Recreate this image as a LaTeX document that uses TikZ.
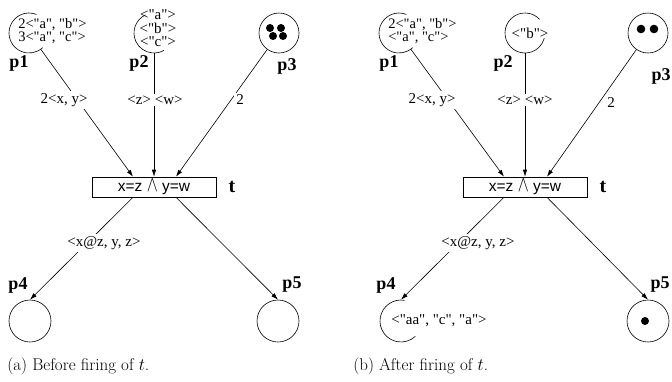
\documentclass[tikz,border=0pt]{standalone}
\usepackage{fontspec}
\newfontfamily\tms{Liberation Serif}
\newfontfamily\hlv{Liberation Sans}
\usetikzlibrary{arrows.meta}
\newcommand{\bigand}{\raisebox{-0.2pt}{\scalebox{1.15}[1.55]{$\wedge$}}}
\begin{document}
\begin{tikzpicture}[x=1pt,y=-1pt,line width=0.6pt,
  place/.style={circle,minimum size=40pt,inner sep=0pt,draw},
  gplace/.style={circle,minimum size=40pt,inner sep=0pt},
  bplace/.style={circle,minimum size=42pt,inner sep=0pt,draw},
  trans/.style={rectangle,draw,minimum width=124pt,minimum height=20pt,inner sep=0pt,font=\hlv\fontsize{15.5}{15.5}\selectfont},
  pname/.style={font=\tms\bfseries\fontsize{18}{18}\selectfont,inner sep=0pt},
  tname/.style={font=\tms\bfseries\fontsize{20}{20}\selectfont,inner sep=0pt},
  alabel/.style={fill=white,inner sep=2pt,font=\tms\fontsize{15}{15}\selectfont},
  tok/.style={inner sep=0pt,font=\tms\fontsize{15}{13.5}\selectfont},
  pnarc/.style={-{Latex[length=7pt,width=4.5pt]}},
  captxt/.style={anchor=west,inner sep=0pt,font=\fontsize{17}{17}\selectfont}]
\useasboundingbox (0,0) rectangle (672,381);

% ---------- left panel ----------
\node[gplace] (ap1) at (29,33) {};
\node[gplace] (ap2) at (154,33) {};
\node[place] (ap3) at (279,33) {};
\node[trans] (at) at (154,187) {x=z \bigand{} y=w};
\node[bplace] (ap4) at (30,321) {};
\node[bplace] (ap5) at (278,321) {};
\draw (ap1.center) ++(68:20pt) arc[start angle=68,end angle=313,radius=20pt];
\draw (ap2.center) ++(115:20pt) arc[start angle=115,end angle=300,radius=20pt];
\node[tok,anchor=west,align=left,font=\tms\fontsize{14.5}{12.5}\selectfont] (ap1m) at (18,31) {2<"a", "b">\\3<"a", "c">};
\node[tok,align=center] (ap2m) at (158,28.5) {<"a">\\<"b">\\<"c">};
\foreach \dx/\dy in {-9/-5,2/-5,-6/3,4/3}
  \fill ([shift={(\dx,\dy)}]ap3.center) circle[radius=4pt];
\node[pname] (ap1n) at (19,63) {p1};
\node[pname] (ap2n) at (139,63) {p2};
\node[pname] (ap3n) at (287,66) {p3};
\node[pname] (ap4n) at (18,285) {p4};
\node[pname] (ap5n) at (292,285) {p5};
\node[tname] (atn) at (232,187) {t};
\draw[pnarc] (ap1) -- ([xshift=-21pt]at.north);
\draw[pnarc] (ap2) -- (at.north);
\draw[pnarc] (ap3) -- ([xshift=22pt]at.north);
\draw[pnarc] ([xshift=-21pt]at.south) -- (ap4.north);
\draw[pnarc] ([xshift=22pt]at.south) -- (ap5.north);
\node[alabel] (al1) at (64,100) {2<x, y>};
\node[alabel] (al2) at (155,100) {<z> <w>};
\node[alabel] (al3) at (240,100) {2};
\node[alabel] (al4) at (104,243) {<x@z, y, z>};
\node[captxt] (acap) at (7,366) {(a) Before firing of $t$.};

% ---------- right panel ----------
\node[gplace] (bp1) at (399,33) {};
\node[gplace] (bp2) at (525,33) {};
\node[place] (bp3) at (648,33) {};
\node[trans] (bt) at (525,187) {x=z \bigand{} y=w};
\node[gplace,minimum size=42pt] (bp4) at (401,321) {};
\node[bplace] (bp5) at (648,321) {};
\draw (bp1.center) ++(68:20pt) arc[start angle=68,end angle=313,radius=20pt];
\draw (bp2.center) ++(43:20pt) arc[start angle=43,end angle=345,radius=20pt];
\draw (bp4.center) ++(80:21pt) arc[start angle=80,end angle=313,radius=21pt];
\node[tok,anchor=west,align=left,font=\tms\fontsize{14.5}{12.5}\selectfont] (bp1m) at (388,31) {2<"a", "b">\\<"a", "c">};
\node[tok] (bp2m) at (530,33) {<"b">};
\node[tok,anchor=west] (bp4m) at (391,321) {<"aa", "c", "a">};
\foreach \dx/\dy in {-7/-4,6/-4}
  \fill ([shift={(\dx,\dy)}]bp3.center) circle[radius=4.3pt];
\fill ([shift={(-3,0)}]bp5.center) circle[radius=4pt];
\node[pname] (bp1n) at (389,63) {p1};
\node[pname] (bp2n) at (503,63) {p2};
\node[pname] (bp3n) at (661,76) {p3};
\node[pname] (bp4n) at (386,285) {p4};
\node[pname] (bp5n) at (660,285) {p5};
\node[tname] (btn) at (603,187) {t};
\draw[pnarc] (bp1) -- ([xshift=-21pt]bt.north);
\draw[pnarc] (bp2) -- (bt.north);
\draw[pnarc] (bp3) -- ([xshift=22pt]bt.north);
\draw[pnarc] ([xshift=-21pt]bt.south) -- (bp4.north);
\draw[pnarc] ([xshift=22pt]bt.south) -- (bp5.north);
\node[alabel] (bl1) at (432,100) {2<x, y>};
\node[alabel] (bl2) at (525,100) {<z> <w>};
\node[alabel] (bl3) at (611,103) {2};
\node[alabel] (bl4) at (478,243) {<x@z, y, z>};
\node[captxt] (bcap) at (353,366) {(b) After firing of $t$.};
\end{tikzpicture}
\end{document}
